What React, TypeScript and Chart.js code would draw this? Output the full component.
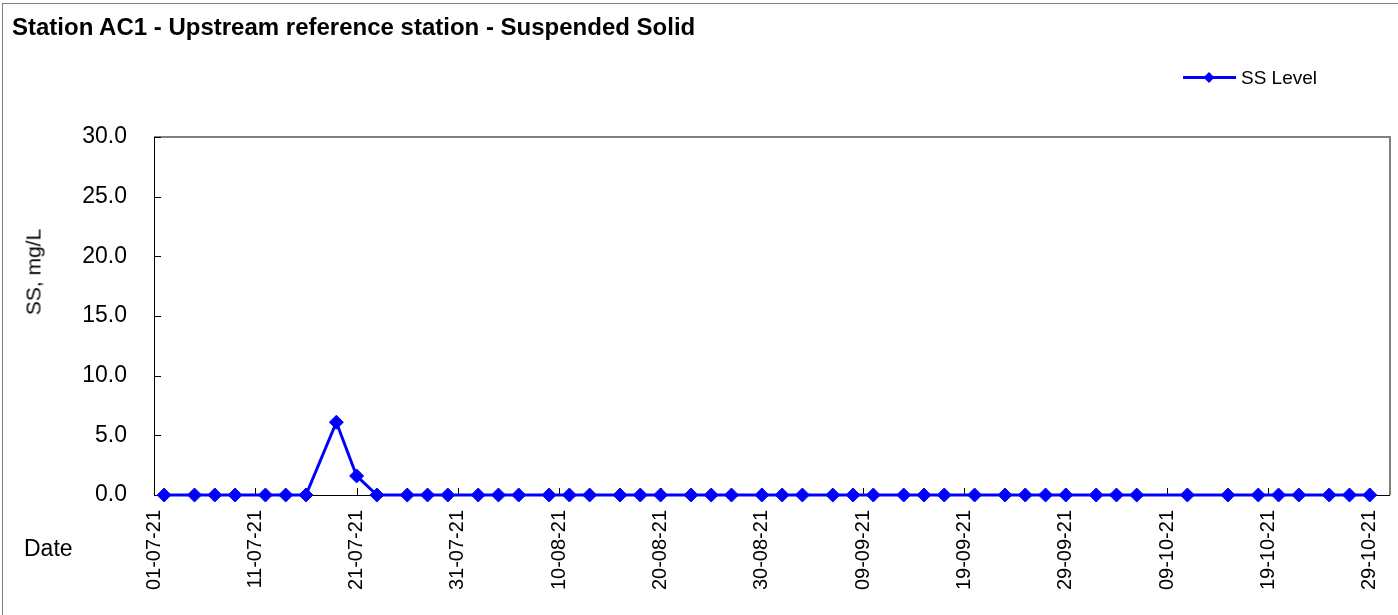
import React, { useEffect, useRef } from "react";
import { Chart, registerables } from "chart.js";

Chart.register(...registerables);

// ---------- data ----------
const chartTitle = "Station AC1 - Upstream reference station - Suspended Solid";
const seriesName = "SS Level";
const yAxisTitle = "SS, mg/L";
const xAxisTitle = "Date";

const sampleDates: string[] = [
  "02-07-21", "05-07-21", "07-07-21", "09-07-21", "12-07-21", "14-07-21", "16-07-21",
  "19-07-21", "21-07-21", "23-07-21", "26-07-21", "28-07-21", "30-07-21",
  "02-08-21", "04-08-21", "06-08-21", "09-08-21", "11-08-21", "13-08-21", "16-08-21",
  "18-08-21", "20-08-21", "23-08-21", "25-08-21", "27-08-21", "30-08-21",
  "01-09-21", "03-09-21", "06-09-21", "08-09-21", "10-09-21", "13-09-21", "15-09-21",
  "17-09-21", "20-09-21", "23-09-21", "25-09-21", "27-09-21", "29-09-21",
  "02-10-21", "04-10-21", "06-10-21", "11-10-21", "15-10-21", "18-10-21", "20-10-21",
  "22-10-21", "25-10-21", "27-10-21", "29-10-21",
];

const ssLevels: number[] = [
  0, 0, 0, 0, 0, 0, 0,
  6.1, 1.6, 0, 0, 0, 0,
  0, 0, 0, 0, 0, 0, 0,
  0, 0, 0, 0, 0, 0,
  0, 0, 0, 0, 0, 0, 0,
  0, 0, 0, 0, 0, 0,
  0, 0, 0, 0, 0, 0, 0,
  0, 0, 0, 0,
];

const xTickDates: string[] = [
  "01-07-21", "11-07-21", "21-07-21", "31-07-21", "10-08-21", "20-08-21", "30-08-21",
  "09-09-21", "19-09-21", "29-09-21", "09-10-21", "19-10-21", "29-10-21",
];
const yTickValues: number[] = [0, 5, 10, 15, 20, 25, 30];
const axisStartDate = "01-07-21";
const axisEndDate = "31-10-21";

// ---------- helpers ----------
const toTime = (s: string) => {
  const [d, m, y] = s.split("-").map(Number);
  return Date.UTC(2000 + y, m - 1, d);
};
const origin = toTime(axisStartDate);
const dayIndex = (s: string) => Math.round((toTime(s) - origin) / 86400000);
const pad2 = (n: number) => (n < 10 ? "0" + n : "" + n);
const formatDay = (i: number) => {
  const dt = new Date(origin + i * 86400000);
  return `${pad2(dt.getUTCDate())}-${pad2(dt.getUTCMonth() + 1)}-${pad2(dt.getUTCFullYear() % 100)}`;
};

const FONT = "'Liberation Sans', Arial, Helvetica, sans-serif";
const BLUE = "#0000FF";

const frameAndTicks = {
  id: "frameAndTicks",
  beforeDatasetsDraw(chart: any) {
    const { ctx, chartArea } = chart;
    const { left, right, top, bottom } = chartArea;
    const xs = chart.scales.x;
    const ys = chart.scales.y;
    ctx.save();
    // top & right gray frame
    ctx.strokeStyle = "#808080";
    ctx.lineWidth = 2;
    ctx.beginPath();
    ctx.moveTo(left, top);
    ctx.lineTo(right, top);
    ctx.lineTo(right, bottom);
    ctx.stroke();
    // axes
    ctx.strokeStyle = "#000000";
    ctx.lineWidth = 1;
    ctx.beginPath();
    ctx.moveTo(left + 0.5, top);
    ctx.lineTo(left + 0.5, bottom + 0.5);
    ctx.lineTo(right, bottom + 0.5);
    ctx.stroke();
    // inward tick marks
    ctx.beginPath();
    for (const v of yTickValues) {
      const py = Math.round(ys.getPixelForValue(v)) + 0.5;
      ctx.moveTo(left, py);
      ctx.lineTo(left + 7, py);
    }
    for (const d of xTickDates) {
      const px = Math.round(xs.getPixelForValue(dayIndex(d))) + 0.5;
      ctx.moveTo(px, bottom);
      ctx.lineTo(px, bottom - 7);
    }
    ctx.stroke();
    ctx.restore();
  },
};

export default function App() {
  const canvasRef = useRef<HTMLCanvasElement | null>(null);

  useEffect(() => {
    document.body.style.margin = "0";
    const canvas = canvasRef.current;
    if (!canvas) return;
    const chart = new Chart(canvas, {
      type: "line",
      data: {
        datasets: [
          {
            label: seriesName,
            data: sampleDates.map((d, i) => ({ x: dayIndex(d), y: ssLevels[i] })),
            borderColor: BLUE,
            backgroundColor: BLUE,
            borderWidth: 3,
            tension: 0,
            pointStyle: "rectRot",
            pointRadius: 7,
            pointBorderWidth: 1,
            pointBackgroundColor: BLUE,
            pointBorderColor: BLUE,
            clip: false,
          } as any,
        ],
      },
      options: {
        animation: false,
        responsive: true,
        maintainAspectRatio: false,
        layout: { padding: { top: 137, right: 6, left: 0, bottom: 0 } },
        plugins: {
          legend: { display: false },
          title: { display: false },
          tooltip: { enabled: false },
        },
        scales: {
          x: {
            type: "linear",
            min: dayIndex(axisStartDate),
            max: dayIndex(axisEndDate),
            grid: { display: false, drawTicks: false },
            border: { display: false },
            afterBuildTicks: (scale: any) => {
              scale.ticks = xTickDates.map((d) => ({ value: dayIndex(d) }));
            },
            afterFit: (scale: any) => {
              scale.height = 120;
              scale.paddingLeft = 0;
              scale.paddingRight = 0;
            },
            ticks: {
              autoSkip: false,
              maxRotation: 90,
              minRotation: 90,
              padding: 15,
              color: "#000000",
              font: { family: FONT, size: 20 },
              callback: (v: any) => formatDay(Number(v)),
            },
          },
          y: {
            type: "linear",
            min: 0,
            max: 30,
            grid: { display: false, drawTicks: false },
            border: { display: false },
            afterBuildTicks: (scale: any) => {
              scale.ticks = yTickValues.map((v) => ({ value: v }));
            },
            afterFit: (scale: any) => {
              scale.width = 154;
              scale.paddingTop = 0;
              scale.paddingBottom = 0;
            },
            ticks: {
              padding: 27,
              color: "#000000",
              font: { family: FONT, size: 23 },
              callback: (v: any) => Number(v).toFixed(1),
            },
          },
        },
      },
      plugins: [frameAndTicks],
    });
    return () => chart.destroy();
  }, []);

  const text: React.CSSProperties = {
    position: "absolute",
    fontFamily: FONT,
    color: "#000",
    lineHeight: 1,
    whiteSpace: "nowrap",
  };

  return (
    <div
      style={{
        position: "fixed",
        left: 0,
        top: 0,
        width: 1398,
        height: 615,
        background: "#fff",
        overflow: "hidden",
      }}
    >
      <div
        style={{
          position: "absolute",
          left: 2,
          top: 3,
          width: 1400,
          height: 620,
          borderLeft: "1px solid #808080",
          borderTop: "1px solid #808080",
        }}
      />
      <canvas ref={canvasRef} style={{ position: "absolute", left: 0, top: 0 }} />
      <div style={{ ...text, left: 12, top: 15, fontSize: 24, fontWeight: "bold" }}>{chartTitle}</div>
      <div style={{ ...text, left: 1183, top: 67, height: 20, width: 150 }}>
        <svg width="54" height="20" style={{ position: "absolute", left: 0, top: 0 }}>
          <line x1="0" y1="10.5" x2="53" y2="10.5" stroke={BLUE} strokeWidth="3" />
          <polygon points="26,5 31.5,10.5 26,16 20.5,10.5" fill={BLUE} />
        </svg>
        <span style={{ position: "absolute", left: 58, top: 1, fontSize: 19 }}>{seriesName}</span>
      </div>
      <div
        style={{
          ...text,
          left: 33,
          top: 272,
          fontSize: 21,
          transform: "translate(-50%, -50%) rotate(-90deg)",
        }}
      >
        {yAxisTitle}
      </div>
      <div style={{ ...text, left: 24, top: 537, fontSize: 23 }}>{xAxisTitle}</div>
    </div>
  );
}
